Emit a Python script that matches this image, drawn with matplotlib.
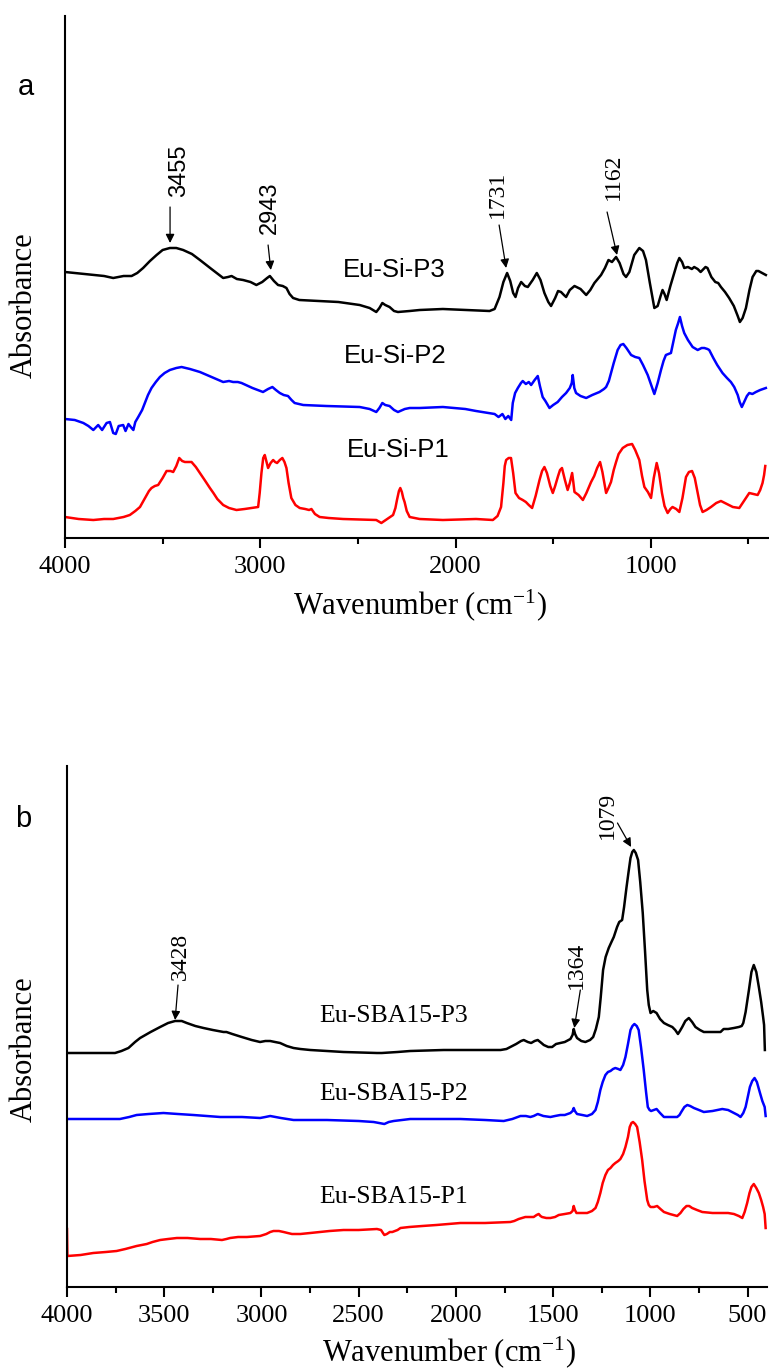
import matplotlib.pyplot as plt

plt.rcParams['font.family'] = 'Liberation Serif'
plt.rcParams['mathtext.fontset'] = 'custom'
plt.rcParams['mathtext.rm'] = 'Liberation Serif'
plt.rcParams['mathtext.it'] = 'Liberation Serif'

# ---- panel a: Eu-Si samples (absorbance in arbitrary units, curves stacked)
si_p3_wn = [4000, 3950, 3900, 3855, 3800, 3753, 3700, 3659, 3630, 3600, 3565, 3531, 3500,
            3463, 3430, 3395, 3350, 3309, 3250, 3190, 3165, 3147, 3120, 3088, 3050, 3020,
            2990, 2965, 2951, 2930, 2909, 2885, 2866, 2850, 2832, 2800, 2700, 2600, 2491,
            2440, 2406, 2390, 2375, 2360, 2338, 2315, 2295, 2235, 2184, 2065, 1950, 1826,
            1800, 1775, 1755, 1736, 1720, 1705, 1693, 1680, 1664, 1645, 1630, 1605, 1584,
            1565, 1545, 1525, 1511, 1490, 1475, 1460, 1445, 1434, 1415, 1391, 1360, 1331,
            1310, 1289, 1255, 1235, 1217, 1199, 1178, 1160, 1140, 1127, 1110, 1085, 1059,
            1040, 1025, 1005, 982, 965, 950, 940, 930, 919, 900, 880, 865, 854, 840, 829,
            810, 790, 778, 760, 745, 735, 720, 710, 690, 670, 655, 641, 620, 599, 575, 555,
            544, 530, 513, 495, 479, 460, 449, 430, 411]
si_p3_abs = [266, 265, 264, 263, 262, 260, 262, 262, 265, 270, 277, 283, 288,
             290, 290, 288, 284, 278, 269, 260, 261, 262, 259, 258, 256, 253,
             256, 260, 262, 257, 253, 252, 250, 244, 240, 238, 237, 236, 233,
             230, 226, 230, 235, 233, 231, 227, 226, 227, 228, 229, 228, 227,
             229, 241, 256, 265, 257, 245, 241, 250, 256, 252, 251, 258, 265,
             258, 245, 236, 232, 240, 247, 246, 243, 241, 248, 252, 249, 243,
             248, 255, 263, 270, 278, 276, 281, 275, 264, 261, 266, 283, 290,
             287, 278, 255, 230, 232, 242, 248, 244, 238, 252, 265, 275, 280, 276, 270,
             271, 269, 271, 269, 266, 268, 271, 270, 261, 256, 255, 251, 246, 240, 232, 222,
             216, 220, 230, 248, 261, 267, 267, 265, 263]

si_p2_wn = [4000, 3950, 3906, 3880, 3855, 3830, 3810, 3787, 3770, 3753, 3740, 3725, 3702,
            3690, 3675, 3659, 3650, 3640, 3625, 3605, 3591, 3575, 3557, 3535, 3514, 3490,
            3463, 3430, 3403, 3360, 3309, 3250, 3190, 3160, 3139, 3115, 3096, 3040, 2986,
            2960, 2938, 2920, 2900, 2880, 2858, 2840, 2824, 2780, 2661, 2491, 2440, 2406,
            2390, 2375, 2360, 2338, 2315, 2295, 2260, 2235, 2184, 2065, 1950, 1895, 1800,
            1780, 1760, 1745, 1730, 1715, 1707, 1695, 1681, 1665, 1656, 1640, 1625, 1613,
            1595, 1579, 1568, 1554, 1540, 1519, 1500, 1477, 1455, 1434, 1415, 1405, 1400,
            1392, 1383, 1360, 1331, 1300, 1263, 1240, 1229, 1215, 1204, 1190, 1170, 1155,
            1141, 1125, 1101, 1080, 1059, 1040, 1016, 1000, 982, 965, 948, 935, 923, 910,
            897, 885, 872, 860, 851, 840, 829, 810, 786, 760, 740, 726, 710, 701, 680, 660,
            633, 610, 590, 573, 555, 545, 534, 520, 508, 496, 480, 462, 440, 411]
si_p2_abs = [119, 118, 115, 112, 108, 113, 108, 115, 116, 105, 104, 112, 113,
             107, 114, 110, 108, 116, 121, 128, 135, 143, 150, 156, 161, 165,
             168, 170, 171, 169, 166, 161, 156, 157, 156, 156, 155, 150, 146,
             149, 151, 148, 145, 143, 142, 138, 135, 133, 132, 131, 129, 126,
             130, 135, 133, 132, 128, 126, 129, 130, 130, 131, 129, 127, 124,
             121, 124, 119, 122, 118, 135, 145, 150, 155, 157, 154, 156, 153,
             158, 162, 152, 141, 137, 130, 133, 136, 141, 145, 150, 155, 163,
             150, 145, 142, 140, 143, 146, 149, 151, 157, 165, 175, 188, 193,
             194, 190, 183, 181, 180, 173, 163, 154, 144, 155, 168, 177, 183, 184,
             185, 196, 208, 215, 221, 212, 205, 198, 191, 188, 190, 190, 189, 188, 180, 173,
             165, 160, 156, 151, 143, 136, 131, 137, 142, 145, 144, 146, 148, 150]

si_p1_wn = [4000, 3930, 3855, 3800, 3753, 3700, 3668, 3640, 3616, 3590, 3570, 3557, 3540,
            3523, 3500, 3480, 3460, 3446, 3430, 3415, 3400, 3386, 3352, 3330, 3309, 3285,
            3258, 3240, 3220, 3190, 3160, 3122, 3080, 3045, 3011, 3003, 2994, 2985, 2977,
            2968, 2960, 2947, 2934, 2924, 2914, 2900, 2887, 2876, 2866, 2855, 2841, 2820,
            2798, 2770, 2750, 2738, 2720, 2696, 2650, 2576, 2406, 2380, 2350, 2320, 2308,
            2300, 2290, 2283, 2275, 2268, 2261, 2250, 2235, 2184, 2065, 1895, 1809, 1785,
            1767, 1755, 1748, 1741, 1728, 1716, 1705, 1693, 1675, 1656, 1640, 1625, 1608,
            1590, 1570, 1557, 1545, 1532, 1515, 1502, 1490, 1475, 1465, 1455, 1440, 1426,
            1415, 1403, 1397, 1391, 1370, 1348, 1330, 1306, 1290, 1275, 1260, 1248, 1235,
            1229, 1217, 1204, 1190, 1178, 1165, 1144, 1120, 1096, 1080, 1059, 1045, 1033,
            1015, 999, 985, 970, 958, 943, 930, 914, 900, 889, 870, 854, 838, 820, 805, 789,
            775, 760, 748, 735, 715, 692, 665, 641, 610, 580, 547, 520, 496, 475, 453, 440,
            428, 420, 414]
si_p1_abs = [21, 19, 18, 19, 19, 21, 23, 27, 31, 40, 47, 50, 52,
             53, 60, 67, 67, 66, 72, 80, 77, 76, 76, 71, 65, 58,
             50, 45, 39, 33, 30, 28, 29, 30, 31, 45, 65, 80, 83,
             76, 70, 75, 78, 76, 75, 78, 80, 76, 70, 55, 40, 33,
             30, 29, 28, 29, 24, 21, 20, 19, 18, 15, 19, 23, 30,
             38, 47, 50, 46, 40, 36, 27, 21, 19, 18, 19, 18, 22,
             31, 55, 72, 78, 80, 80, 65, 45, 40, 38, 36, 33, 30,
             42, 58, 67, 71, 65, 52, 45, 52, 62, 68, 70, 58, 48,
             55, 65, 56, 46, 43, 38, 45, 56, 62, 70, 76, 66, 52,
             45, 50, 56, 68, 76, 84, 90, 93, 94, 88, 78, 62, 51,
             46, 40, 60, 75, 65, 45, 32, 25, 29, 31, 29, 26, 40, 61, 66, 67,
             60, 45, 33, 26, 28, 31, 35, 37, 34, 31, 30, 38, 45, 44, 43, 48,
             55, 63, 72]

# ---- panel b: Eu-SBA15 samples
sba_p3_wn = [4000, 3800, 3753, 3720, 3684, 3650, 3624, 3570, 3521, 3480, 3444, 3410, 3384,
             3340, 3298, 3250, 3195, 3180, 3150, 3101, 3050, 3007, 2980, 2955, 2930, 2904,
             2870, 2835, 2800, 2749, 2578, 2406, 2381, 2300, 2235, 2063, 1770, 1740, 1720,
             1690, 1665, 1651, 1630, 1613, 1595, 1579, 1560, 1548, 1525, 1505, 1485, 1463,
             1440, 1411, 1400, 1394, 1387, 1377, 1355, 1334, 1310, 1294, 1280, 1265, 1255,
             1243, 1230, 1214, 1200, 1188, 1171, 1160, 1145, 1135, 1123, 1112, 1102, 1093,
             1085, 1075, 1063, 1052, 1039, 1027, 1016, 1008, 999, 985, 968, 950, 930, 910,
             887, 872, 858, 848, 836, 820, 802, 785, 768, 745, 725, 680, 639, 623, 600, 570,
             545, 530, 522, 510, 500, 493, 480, 468, 455, 442, 430, 420, 415, 411]
sba_p3_abs = [234, 234, 234, 236, 239, 245, 249, 255, 260, 264, 266, 266, 264,
              261, 259, 257, 255, 255, 253, 250, 247, 245, 246, 246, 245, 244,
              241, 239, 238, 237, 235, 234, 234, 235, 236, 237, 237, 238, 240,
              243, 246, 247, 245, 244, 246, 247, 244, 242, 240, 240, 243, 244,
              245, 248, 252, 258, 253, 249, 246, 245, 247, 250, 258, 270, 290,
              317, 330, 339, 345, 350, 360, 365, 367, 380, 399, 415, 429, 435,
              437, 434, 427, 405, 374, 335, 297, 282, 274, 276, 274, 268, 264, 262,
              260, 257, 253, 256, 260, 266, 269, 265, 260, 257, 255, 255, 255, 258, 258, 259,
              260, 261, 264, 275, 288, 297, 315, 322, 315, 300, 285, 270, 262, 237]

sba_p2_wn = [4000, 3800, 3728, 3680, 3642, 3580, 3504, 3430, 3350, 3212, 3100, 3007, 2980,
             2955, 2900, 2835, 2663, 2500, 2423, 2395, 2368, 2345, 2320, 2235, 1977, 1850,
             1754, 1710, 1668, 1640, 1617, 1600, 1579, 1550, 1514, 1490, 1463, 1440, 1411,
             1400, 1394, 1388, 1377, 1350, 1325, 1300, 1282, 1270, 1257, 1245, 1231, 1218,
             1205, 1192, 1180, 1165, 1154, 1140, 1128, 1115, 1102, 1092, 1082, 1070, 1060,
             1048, 1034, 1022, 1013, 1004, 996, 982, 968, 950, 930, 900, 862, 850, 841, 825,
             810, 795, 776, 750, 725, 680, 630, 600, 570, 550, 536, 522, 510, 500, 488, 476,
             464, 452, 436, 424, 412, 407]
sba_p2_abs = [168, 168, 168, 170, 172, 173, 174, 173, 172, 170, 170, 169, 170,
              171, 169, 167, 167, 166, 165, 164, 163, 165, 166, 168, 168, 167,
              166, 168, 171, 171, 170, 171, 173, 171, 170, 171, 172, 172, 174,
              176, 179, 176, 173, 172, 171, 173, 177, 185, 197, 205, 212, 215,
              216, 218, 219, 218, 217, 222, 230, 243, 257, 261, 263, 261, 257,
              240, 217, 195, 180, 177, 176, 177, 178, 174, 170, 170, 170, 172, 175, 180,
              182, 181, 179, 177, 175, 176, 178, 177, 174, 172, 170, 174, 180, 189, 200, 206,
              209, 205, 194, 186, 180, 171]

sba_p1_wn = [4000, 3998, 3930, 3865, 3800, 3745, 3700, 3642, 3590, 3560, 3521, 3480, 3435,
             3380, 3315, 3260, 3203, 3180, 3161, 3120, 3075, 3007, 2975, 2955, 2938, 2910,
             2886, 2865, 2843, 2800, 2749, 2650, 2578, 2500, 2406, 2385, 2375, 2368, 2355,
             2340, 2327, 2300, 2285, 2240, 2173, 2100, 1977, 1850, 1720, 1700, 1677, 1660,
             1643, 1620, 1600, 1585, 1574, 1565, 1557, 1535, 1514, 1490, 1471, 1440, 1411,
             1400, 1394, 1388, 1380, 1350, 1325, 1300, 1282, 1270, 1257, 1245, 1231, 1218,
             1205, 1192, 1180, 1165, 1154, 1140, 1128, 1115, 1106, 1097, 1089, 1078, 1068,
             1055, 1042, 1030, 1016, 1008, 999, 982, 965, 948, 930, 900, 862, 845, 830, 814,
             800, 785, 760, 733, 680, 630, 600, 570, 545, 527, 515, 502, 490, 480, 468, 455,
             442, 430, 420, 412, 407]
sba_p1_abs = [58, 31, 32, 34, 35, 36, 38, 41, 43, 45, 47, 48, 49,
              49, 48, 48, 47, 48, 49, 50, 50, 51, 53, 55, 56, 56,
              55, 54, 53, 53, 54, 56, 57, 57, 58, 57, 54, 52, 53,
              55, 55, 57, 59, 60, 61, 62, 64, 64, 65, 66, 68, 69,
              70, 70, 70, 72, 73, 71, 70, 69, 69, 70, 72, 73, 74,
              76, 81, 77, 74, 74, 74, 76, 79, 85, 94, 104, 112, 117,
              119, 122, 124, 126, 128, 133, 140, 150, 160, 164, 165, 163, 160,
              145, 127, 106, 87, 82, 80, 80, 81, 78, 75, 73, 71, 74, 78, 81,
              81, 79, 77, 75, 74, 74, 74, 73, 71, 69, 75, 84, 94, 100, 103, 99,
              94, 87, 80, 73, 59]

si_labels = ['Eu-Si-P3', 'Eu-Si-P2', 'Eu-Si-P1']
sba_labels = ['Eu-SBA15-P3', 'Eu-SBA15-P2', 'Eu-SBA15-P1']
ticks_a = [4000, 3000, 2000, 1000]
ticks_b = [4000, 3500, 3000, 2500, 2000, 1500, 1000, 500]


def peak(ax, txt, tpos, tail, head, family):
    ax.text(tpos[0], tpos[1], txt, rotation=90, ha='center', va='center',
            fontsize=17, family=family)
    ax.annotate('', xy=head, xytext=tail,
                arrowprops=dict(arrowstyle='-|>', color='k', lw=0.9,
                                mutation_scale=13, shrinkA=0, shrinkB=0))


def style_axis(ax, ticks, minor, ymax):
    ax.set_xlim(4000, 400)
    ax.set_ylim(0, ymax)
    ax.spines['top'].set_visible(False)
    ax.spines['right'].set_visible(False)
    ax.spines['left'].set_linewidth(1.5)
    ax.spines['bottom'].set_linewidth(1.5)
    ax.set_xticks(ticks)
    ax.set_xticklabels([str(t) for t in ticks], fontfamily='Liberation Serif', fontsize=19)
    ax.set_xticks(minor, minor=True)
    ax.tick_params(axis='x', which='major', length=7, width=1.5, pad=6)
    ax.tick_params(axis='x', which='minor', length=4, width=1.5)
    ax.tick_params(axis='y', which='both', left=False, labelleft=False)


fig = plt.figure(figsize=(7.69, 13.72), dpi=100)

# panel a
ax1 = fig.add_axes([65 / 769, 834 / 1372, 703 / 769, 522 / 1372])
ax1.plot(si_p3_wn, si_p3_abs, color='k', lw=1.8)
ax1.plot(si_p2_wn, si_p2_abs, color='#0000ff', lw=1.8)
ax1.plot(si_p1_wn, si_p1_abs, color='#ff0000', lw=1.8)
style_axis(ax1, ticks_a, [3500, 2500, 1500, 500], 522)
for lab, x, y in zip(si_labels, [2576, 2574, 2554], [261, 175, 81]):
    ax1.text(x, y, lab, family='Liberation Sans', fontsize=18.5, ha='left', va='baseline')
peak(ax1, '3455', (3416, 367), (3462, 331), (3462, 295), 'Liberation Sans')
peak(ax1, '2943', (2950, 330), (2960, 293), (2946, 268), 'Liberation Sans')
peak(ax1, '1731', (1787, 344), (1777, 313), (1741, 270), 'Liberation Serif')
peak(ax1, '1162', (1193, 361), (1224, 326), (1173, 283), 'Liberation Serif')

# panel b
ax2 = fig.add_axes([67 / 769, 85 / 1372, 700 / 769, 521 / 1372])
ax2.plot(sba_p3_wn, sba_p3_abs, color='k', lw=1.8)
ax2.plot(sba_p2_wn, sba_p2_abs, color='#0000ff', lw=1.8)
ax2.plot(sba_p1_wn, sba_p1_abs, color='#ff0000', lw=1.8)
style_axis(ax2, ticks_b, [3750, 3250, 2750, 2250, 1750, 1250, 750], 521)
for lab, y in zip(sba_labels, [265, 187, 84]):
    ax2.text(2703, y, lab, fontsize=18.5, ha='left', va='baseline')
peak(ax2, '3428', (3418, 331), (3429, 302), (3444, 267), 'Liberation Serif')
peak(ax2, '1364', (1380, 322), (1360, 297), (1391, 259), 'Liberation Serif')
peak(ax2, '1079', (1221, 472), (1169, 464), (1099, 440), 'Liberation Serif')

# axis titles and panel letters
xlab = 'Wavenumber (cm$^{-1}$)'
fig.text(24 / 769, 1 - 305 / 1372, 'Absorbance', rotation=90, ha='center', va='center', fontsize=22)
fig.text(24 / 769, 1 - 1049 / 1372, 'Absorbance', rotation=90, ha='center', va='center', fontsize=22)
fig.text(420 / 769, 1 - 605 / 1372, xlab, ha='center', va='center', fontsize=22)
fig.text(449 / 769, 1 - 1352 / 1372, xlab, ha='center', va='center', fontsize=22)
fig.text(18 / 769, 1 - 95 / 1372, 'a', family='Liberation Sans', fontsize=21, va='baseline')
fig.text(15 / 769, 1 - 827 / 1372, 'b', family='Liberation Sans', fontsize=21, va='baseline')

fig.savefig('out.png', dpi=100)
